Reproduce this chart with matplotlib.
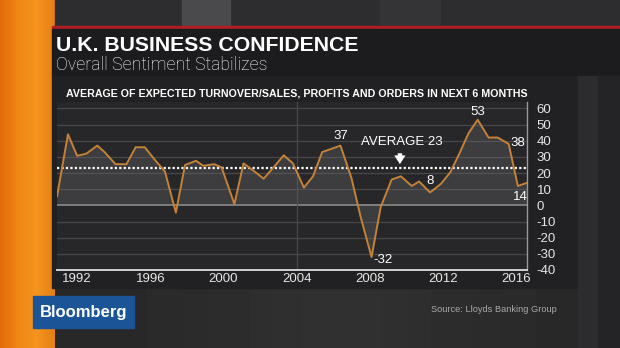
import matplotlib
matplotlib.use("Agg")
import matplotlib.pyplot as plt
import numpy as np
from matplotlib.patches import Rectangle

# ================== DATA ==================
years = [1990.9, 1991.5, 1992.0, 1992.5, 1993.1, 1993.5, 1994.1, 1994.7, 1995.2, 1995.7,
         1996.3, 1996.8, 1997.4, 1997.9, 1998.5, 1998.9, 1999.5, 1999.9, 2000.6, 2001.1,
         2001.7, 2002.2, 2002.7, 2003.3, 2003.8, 2004.4, 2004.9, 2005.4, 2005.9, 2006.4,
         2007.0, 2007.5, 2008.1, 2008.6, 2009.2, 2009.7, 2010.3, 2010.7, 2011.3, 2011.9,
         2012.4, 2012.9, 2013.4, 2013.9, 2014.5, 2015.0, 2015.6, 2016.1, 2016.6]
confidence = [5.5, 44, 30.7, 32, 37, 33, 25.5, 25.5, 36, 36,
              27.5, 21, -4.5, 25, 27.6, 24.5, 25.5, 23.5, 0.8, 26,
              21, 16.5, 23, 31, 26, 11, 18, 33, 35, 37,
              17, -7, -32, -1, 16, 18, 12, 14.8, 8, 13.4,
              20.4, 32, 44.6, 53, 42, 42, 38, 12, 14]
AVERAGE = 23
x_ticks = [1992, 1996, 2000, 2004, 2008, 2012, 2016]
y_ticks = [60, 50, 40, 30, 20, 10, 0, -10, -20, -30, -40]

# index of point, label, offset in px, ha, va
callouts = [(29, "37", (0, 4), "center", "bottom"),
            (43, "53", (0, 2), "center", "bottom"),
            (46, "38", (2, 1), "left", "center"),
            (48, "14", (-7, -8), "center", "top"),
            (38, "8", (0, 5), "center", "bottom"),
            (32, "-32", (2, -3), "left", "center")]

TITLE = "U.K. BUSINESS CONFIDENCE"
SUBTITLE = "Overall Sentiment Stabilizes"
HEADER = "AVERAGE OF EXPECTED TURNOVER/SALES, PROFITS AND ORDERS IN NEXT 6 MONTHS"
SOURCE = "Source: Lloyds Banking Group"

W, H = 620, 348
LINE = "#c48238"
plt.rcParams["font.family"] = ["Liberation Sans", "DejaVu Sans"]
plt.rcParams["axes.unicode_minus"] = False

fig = plt.figure(figsize=(W / 100, H / 100), dpi=100)

# ================== BACKGROUND ==================
bg = fig.add_axes([0, 0, 1, 1])
bg.set_xlim(0, W)
bg.set_ylim(H, 0)
bg.axis("off")

base = np.linspace(0, 1, 200)[None, :] * np.ones((50, 1))
glow = 0.16 + 0.03 * np.exp(-((base - 0.55) ** 2) / 0.05)
bg.imshow(glow, extent=(0, W, H, 0), cmap="gray", vmin=0, vmax=1, aspect="auto", zorder=0)

# orange strip on the left
orange = np.array([[0.89, 0.42, 0.04], [0.94, 0.53, 0.08], [0.96, 0.58, 0.12], [0.90, 0.50, 0.08]])
strip = np.interp(np.linspace(0, 3, 60), np.arange(4), np.arange(4))
strip_rgb = np.array([[orange[int(min(s, 2))] * (1 - (s - int(min(s, 2)))) +
                       orange[int(min(s, 2)) + 1] * (s - int(min(s, 2))) for s in strip]])
bg.imshow(np.repeat(strip_rgb, 10, axis=0), extent=(0, 55, H, 0), aspect="auto", zorder=1)

# top video band
bg.add_patch(Rectangle((55, 0), W - 55, 27, color="#2d2d2f", zorder=1))
bg.add_patch(Rectangle((182, 0), 48, 27, color="#4a4a4c", zorder=1))
bg.add_patch(Rectangle((380, 0), 60, 27, color="#343436", zorder=1))
bg.add_patch(Rectangle((52, 26), W - 52, 3, color="#b01e24", zorder=2))

# title and chart panels
bg.add_patch(Rectangle((52, 29), W - 52, 47, color="#1c1c1e", zorder=2))
bg.add_patch(Rectangle((52, 76), 526, 212, color="#212123", zorder=2))
bg.add_patch(Rectangle((578, 76), W - 578, H - 76, color="#2c2c2e", zorder=2))
bg.add_patch(Rectangle((598, 76), W - 598, H - 76, color="#242426", zorder=2))

bg.text(56, 51, TITLE, color="white", fontsize=15.3, fontweight="bold",
        va="baseline", ha="left", zorder=3)
bg.text(56, 70, SUBTITLE, color="white", fontsize=12.8, va="baseline", ha="left",
        family=["Roboto", "Liberation Sans"], fontweight="light", zorder=3)
bg.text(66, 96.5, HEADER, color="white", fontsize=7.62, fontweight="bold",
        va="baseline", ha="left", family=["Liberation Sans Narrow", "Liberation Sans"], zorder=3)

# logo and source
bg.add_patch(Rectangle((33, 296), 101, 32, color="#1c5597", zorder=3))
bg.text(83.5, 312, "Bloomberg", color="white", fontsize=12, fontweight="bold",
        ha="center", va="center", zorder=4)
bg.text(431, 312, SOURCE, color="#a9a9a9", fontsize=6.7, ha="left", va="baseline", zorder=3)

# ================== CHART ==================
ax = fig.add_axes([57 / W, (H - 270) / H, 470 / W, 168 / H])
ax.set_facecolor("#27272a")
ax.set_xlim(min(years), max(years))
ax.set_ylim(-40, 64)

for v in y_ticks[:-1]:
    ax.axhline(v, color="#9a9a9a" if v == 0 else "#48484b", lw=1.1 if v == 0 else 0.9, zorder=1)
ax.axvline(2004, color="#48484b", lw=0.9, zorder=1)

ax.fill_between(years, confidence, 0, color="#707072", alpha=0.3, lw=0, zorder=2)
ax.plot(years, confidence, color=LINE, lw=1.4, zorder=4)
ax.axhline(AVERAGE, color="white", lw=1.6, linestyle=(0, (1, 1)), zorder=3)

for i, label, off, ha, va in callouts:
    ax.annotate(label, (years[i], confidence[i]), xytext=off, textcoords="offset pixels",
                color="white", fontsize=9.5, ha=ha, va=va, zorder=5)

ax.annotate("", xy=(2009.65, AVERAGE + 0.8), xytext=(2009.65, 34),
            arrowprops=dict(arrowstyle="simple,head_width=0.9,head_length=0.7,tail_width=0.35",
                            color="white", lw=0, mutation_scale=9), zorder=5)
ax.text(2009.75, 35.5, f"AVERAGE {AVERAGE}", color="white", fontsize=9.5,
        ha="center", va="bottom", zorder=5)

ax.set_xticks(x_ticks)
ax.set_xticklabels([str(t) for t in x_ticks])
ax.set_yticks(y_ticks)
ax.yaxis.tick_right()
ax.tick_params(axis="both", length=0, colors="#e6e6e6", labelsize=9.5)
ax.tick_params(axis="x", pad=2.5)
ax.tick_params(axis="y", pad=7)
for side in ["top", "left"]:
    ax.spines[side].set_visible(False)
ax.spines["bottom"].set_color("#d0d0d0")
ax.spines["bottom"].set_linewidth(1.4)
ax.spines["right"].set_color("#9a9a9a")
ax.spines["right"].set_linewidth(1.0)

fig.savefig("out.png", dpi=100)
